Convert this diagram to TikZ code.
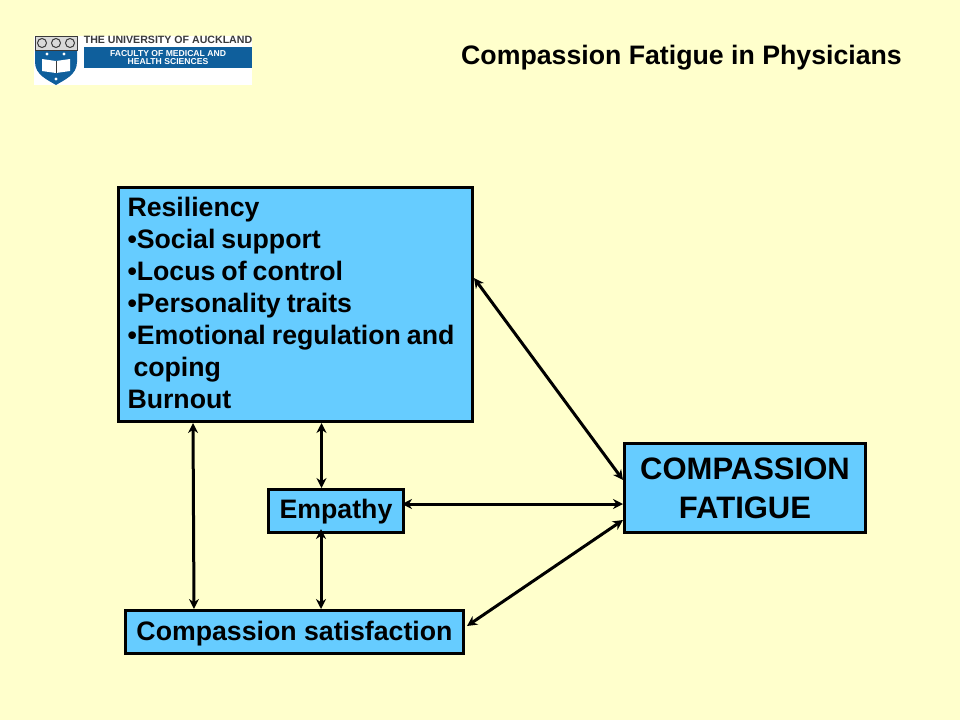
\documentclass[tikz,border=0pt]{standalone}
\usepackage{fontspec}
\setmainfont{Liberation Sans}
\usetikzlibrary{arrows.meta}
\definecolor{paleyellow}{HTML}{FFFFCC}
\definecolor{boxblue}{HTML}{66CCFF}
\definecolor{logoblue}{HTML}{0F5F9C}
\definecolor{logogray}{HTML}{3A3A3A}

\begin{document}
\begin{tikzpicture}[x=1pt, y=-1pt,
	every node/.style={font=\bfseries},
	bluebox/.style={draw, line width=3pt, fill=boxblue, inner sep=0pt, font=\fontsize{26.7}{32}\selectfont\bfseries},
	link/.style={line width=3pt, {Stealth[length=10pt, width=10pt]}-{Stealth[length=10pt, width=10pt]}}]
		\path[fill=paleyellow, use as bounding box] (0, 0) rectangle (960, 720);
		%Logo
		\fill[white] (34, 36) rectangle (252, 85);
		\fill[logoblue] (35, 50) -- (77, 50) -- (77, 62) .. controls (77, 75) and (64, 80) .. (56, 85) .. controls (48, 80) and (35, 75) .. (35, 62) -- cycle;
		\draw[logogray, fill=white!85!black, line width=.8pt] (35, 36) rectangle (77, 50);
		\foreach \helmx in {42, 56, 70}
			\draw[logogray, line width=1pt] (\helmx, 43) circle (4.5);
		\foreach \starx/\stary in {47/54, 64/54, 56/79}
			\fill[white] (\starx, \stary) circle (1.6);
		\fill[white] (42, 59) -- (56, 61) -- (70, 59) -- (70, 71) -- (56, 73) -- (42, 71) -- cycle;
		\draw[logogray, line width=.5pt] (56, 61) -- (56, 73);
		\fill[logoblue] (84, 47) rectangle (252, 68);
		\node (uni) [anchor=center, text=logogray, font=\fontsize{10.6}{11}\selectfont\bfseries] at (168, 40) {THE UNIVERSITY OF AUCKLAND};
		\node (faculty) [anchor=center, align=center, text=white, font=\fontsize{8.6}{8.8}\selectfont\bfseries] at (168, 57.5) {FACULTY OF MEDICAL AND\\HEALTH SCIENCES};
		%Title
		\node (title) [anchor=center, font=\fontsize{26.7}{30}\selectfont\bfseries] at (681.5, 58) {Compassion Fatigue in Physicians};
		%Boxes
		\node (resil) [bluebox, minimum width=354pt, minimum height=234.5pt, align=left, text width=336pt] at (295.5, 304.25) {\spaceskip=6pt Resiliency\\•Social support\\•Locus of control\\•Personality traits\\•Emotional regulation and\\\hspace*{6pt}coping\\Burnout\rule[-2pt]{0pt}{2pt}};
		\node (empathy) [bluebox, minimum width=135pt, minimum height=43pt, text height=17pt, text depth=3pt] at (336, 511) {Empathy};
		\node (satisf) [bluebox, minimum width=338pt, minimum height=43pt, text height=18pt, text depth=2pt] at (294.5, 632) {Compassion satisfaction};
		\node (fatigue) [bluebox, minimum width=241pt, minimum height=89pt, align=center, font=\fontsize{31}{39}\selectfont\bfseries] at (745, 488) {COMPASSION\\FATIGUE};
		%Arrows
		\draw[link] ([xshift=-102.5pt]resil.south) to ([xshift=-100.5pt]satisf.north);
		\draw[link] ([xshift=26pt]resil.south) to ([xshift=-14.5pt]empathy.north);
		\draw[link] ([xshift=-15pt, yshift=5pt]empathy.south) to ([xshift=26.5pt]satisf.north);
		\draw[link] ([xshift=-3pt, yshift=7pt]empathy.east) to ([yshift=-16pt]fatigue.west);
		\draw[link] ([yshift=26.25pt]resil.east) to ([yshift=8pt]fatigue.west);
		\draw[link] ([xshift=2pt, yshift=6pt]satisf.east) to ([yshift=-32pt]fatigue.west);
	\end{tikzpicture}
\end{document}
